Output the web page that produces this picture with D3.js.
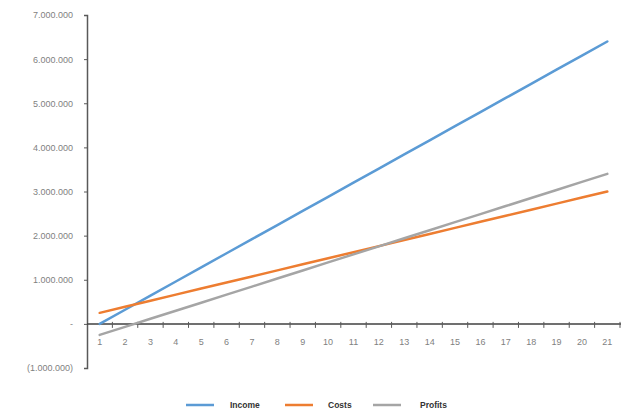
<!DOCTYPE html>
<html>
<head>
<meta charset="utf-8">
<script src="https://cdn.jsdelivr.net/npm/d3@7"></script>
<style>
  html, body { margin: 0; padding: 0; background: #fff; }
  svg { display: block; font-family: "Liberation Sans", Arial, sans-serif; }
</style>
</head>
<body>
<svg id="chart" width="621" height="412"></svg>
<script>
// Periods on the horizontal axis
const periods = d3.range(1, 22);

// Series values per period
const income = [0, 320000, 640000, 960000, 1280000, 1600000, 1920000, 2240000, 2560000, 2880000,
  3200000, 3520000, 3840000, 4160000, 4480000, 4800000, 5120000, 5440000, 5760000, 6080000, 6400000];
const costs = [250000, 387500, 525000, 662500, 800000, 937500, 1075000, 1212500, 1350000, 1487500,
  1625000, 1762500, 1900000, 2037500, 2175000, 2312500, 2450000, 2587500, 2725000, 2862500, 3000000];
const profits = [-250000, -67500, 115000, 297500, 480000, 662500, 845000, 1027500, 1210000, 1392500,
  1575000, 1757500, 1940000, 2122500, 2305000, 2487500, 2670000, 2852500, 3035000, 3217500, 3400000];

// Value axis ticks
const yTicks = [-1000000, 0, 1000000, 2000000, 3000000, 4000000, 5000000, 6000000, 7000000];

const seriesNames = ["Income", "Costs", "Profits"];
const seriesColors = ["#5B9BD5", "#ED7D31", "#A5A5A5"];
const series = [income, costs, profits];

const svg = d3.select("#chart");

const x = d3.scaleBand().domain(periods).range([87, 620]).padding(0);
const y = d3.scaleLinear().domain([-1000000, 7000000]).range([368, 15]);

// Accounting-style number format: 1.000.000, "-" for zero, parentheses for negatives
const grp = d3.formatLocale({ decimal: ",", thousands: ".", grouping: [3], currency: ["", ""] }).format(",.0f");
const fmt = v => v === 0 ? "-" : (v < 0 ? "(" + grp(-v) + ")" : grp(v));

// Y axis
const yAxis = svg.append("g")
  .attr("transform", "translate(87,0)")
  .call(d3.axisLeft(y).tickValues(yTicks).tickFormat(fmt).tickSize(3).tickPadding(11));
yAxis.select(".domain").attr("stroke", "#595959").attr("stroke-width", 1.5);
yAxis.selectAll(".tick line").attr("stroke", "#595959");
yAxis.selectAll(".tick text").attr("fill", "#7f7f7f").style("font-size", "9px");

// X axis at zero with ticks between categories
const xAxisG = svg.append("g").attr("transform", `translate(0,${y(0)})`);
xAxisG.append("line")
  .attr("x1", 87).attr("x2", 621)
  .attr("stroke", "#404040").attr("stroke-width", 1.5);
xAxisG.selectAll("line.tk")
  .data(periods.slice(1))
  .join("line")
  .attr("class", "tk")
  .attr("x1", d => x(d)).attr("x2", d => x(d))
  .attr("y1", -2).attr("y2", 4)
  .attr("stroke", "#595959");
xAxisG.append("line")
  .attr("x1", 620).attr("x2", 620).attr("y1", -2).attr("y2", 4)
  .attr("stroke", "#595959");
xAxisG.selectAll("text")
  .data(periods)
  .join("text")
  .attr("x", d => x(d) + x.bandwidth() / 2)
  .attr("y", 21)
  .attr("text-anchor", "middle")
  .attr("fill", "#7f7f7f")
  .style("font-size", "9px")
  .text(d => d);

// Lines
const line = d3.line()
  .x((d, i) => x(periods[i]) + x.bandwidth() / 2)
  .y(d => y(d));

svg.append("g").selectAll("path")
  .data(series)
  .join("path")
  .attr("d", d => line(d))
  .attr("fill", "none")
  .attr("stroke", (d, i) => seriesColors[i])
  .attr("stroke-width", 2.5)
  .attr("stroke-linecap", "round");

// Legend
const legendX = [186, 285, 373];
const legend = svg.append("g").attr("transform", "translate(0,405)");
const items = legend.selectAll("g")
  .data(seriesNames)
  .join("g")
  .attr("transform", (d, i) => `translate(${legendX[i]},0)`);
items.append("line")
  .attr("x1", 0).attr("x2", 28)
  .attr("stroke", (d, i) => seriesColors[i])
  .attr("stroke-width", 2.5);
items.append("text")
  .attr("x", (d, i) => [44, 43, 47][i])
  .attr("y", 3)
  .attr("fill", "#333")
  .style("font-size", "8.5px")
  .style("font-weight", "bold")
  .text(d => d);
</script>
</body>
</html>
